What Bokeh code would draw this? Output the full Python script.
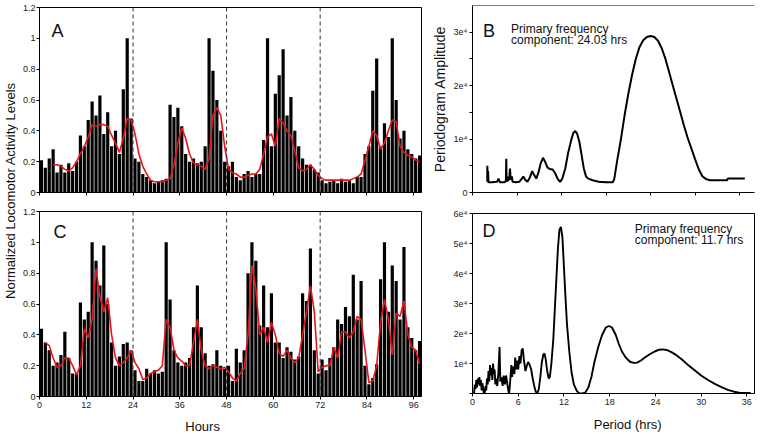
from math import pi
from bokeh.plotting import figure
from bokeh.layouts import row, column
from bokeh.models import (ColumnDataSource, Span, Label, FixedTicker,
                          NumeralTickFormatter, Range1d)
from bokeh.transform import dodge
from bokeh.embed import file_html
from bokeh.resources import INLINE

FONT = "Liberation Sans"

# ---------------- data ----------------
activity_A = [0.21, 0.16, 0.22, 0.28, 0.13, 0.18, 0.13, 0.19, 0.14, 0.2,
              0.37, 0.3, 0.47, 0.59, 0.5, 0.63, 0.38, 0.52, 0.3, 0.4,
              0.25, 0.67, 1.0, 0.48, 0.22, 0.2, 0.12, 0.1, 0.08, 0.06,
              0.07, 0.08, 0.09, 0.57, 0.49, 0.55, 0.43, 0.25, 0.2, 0.22,
              0.19, 0.2, 0.3, 1.0, 0.79, 0.6, 0.4, 0.2, 0.17, 0.2,
              0.1, 0.08, 0.12, 0.14, 0.1, 0.12, 0.12, 0.34, 1.0, 0.3,
              0.64, 0.76, 0.93, 0.5, 0.62, 0.4, 0.3, 0.22, 0.18, 0.18,
              0.15, 0.13, 0.08, 0.06, 0.07, 0.08, 0.06, 0.09, 0.07, 0.08,
              0.06, 0.1, 0.1, 0.25, 0.3, 0.66, 0.87, 0.3, 0.45, 0.36,
              1.0, 0.6, 0.35, 0.4, 0.28, 0.25, 0.22, 0.24]
smooth_A_start = 3
smooth_A = [0.18, 0.18, 0.17, 0.15, 0.14, 0.16, 0.2, 0.25, 0.3, 0.36,
            0.44, 0.43, 0.44, 0.44, 0.43, 0.37, 0.32, 0.26, 0.35, 0.48,
            0.47, 0.38, 0.25, 0.17, 0.12, 0.08, 0.07, 0.07, 0.07, 0.08,
            0.09, 0.18, 0.32, 0.42, 0.35, 0.25, 0.19, 0.18, 0.17, 0.15,
            0.22, 0.5, 0.55, 0.5, 0.3, 0.15, 0.13, 0.12, 0.1, 0.1,
            0.11, 0.12, 0.12, 0.15, 0.25, 0.36, 0.38, 0.3, 0.48, 0.45,
            0.4, 0.37, 0.27, 0.16, 0.14, 0.15, 0.18, 0.15, 0.11, 0.09,
            0.08, 0.08, 0.08, 0.08, 0.08, 0.08, 0.08, 0.09, 0.1, 0.12,
            0.21, 0.3, 0.4, 0.37, 0.28, 0.32, 0.4, 0.47, 0.46, 0.3,
            0.26, 0.24, 0.23, 0.21, 0.2]

activity_C = [0.44, 0.35, 0.3, 0.2, 0.22, 0.27, 0.42, 0.25, 0.15, 0.15,
              0.61, 0.5, 0.55, 1.0, 0.88, 0.72, 0.98, 0.6, 0.35, 0.2,
              0.26, 0.34, 0.35, 0.3, 0.17, 0.1, 0.1, 0.18, 0.15, 0.17,
              0.15, 0.16, 1.0, 0.63, 0.3, 0.22, 0.2, 0.22, 0.25, 0.45,
              0.72, 0.45, 0.28, 0.2, 0.21, 0.3, 0.2, 0.18, 0.2, 0.1,
              0.31, 0.22, 0.3, 0.8, 1.0, 0.88, 0.46, 0.72, 0.45, 0.67,
              0.35, 0.35, 0.25, 0.32, 0.29, 0.24, 0.26, 0.67, 0.62, 0.96,
              0.3, 0.15, 0.24, 0.17, 0.25, 0.32, 0.5, 0.47, 0.58, 0.52,
              0.79, 0.5, 0.75, 0.2, 0.08, 0.12, 0.21, 0.76, 1.0, 0.55,
              0.85, 0.75, 0.5, 0.97, 0.45, 0.38, 0.3, 0.36]
smooth_C_start = 1
smooth_C = [0.35, 0.33, 0.25, 0.19, 0.2, 0.25, 0.25, 0.2, 0.14, 0.2,
            0.44, 0.38, 0.5, 0.83, 0.65, 0.55, 0.64, 0.4, 0.25, 0.2,
            0.22, 0.25, 0.3, 0.22, 0.18, 0.11, 0.12, 0.15, 0.16, 0.17,
            0.2, 0.5, 0.45, 0.3, 0.25, 0.23, 0.2, 0.2, 0.35, 0.5,
            0.3, 0.2, 0.18, 0.2, 0.19, 0.18, 0.19, 0.16, 0.12, 0.1,
            0.15, 0.18, 0.4, 0.85, 0.7, 0.4, 0.45, 0.35, 0.48, 0.4,
            0.28, 0.26, 0.3, 0.25, 0.22, 0.25, 0.4, 0.55, 0.72, 0.55,
            0.16, 0.19, 0.2, 0.2, 0.32, 0.25, 0.42, 0.42, 0.38, 0.42,
            0.52, 0.5, 0.3, 0.09, 0.1, 0.2, 0.48, 0.63, 0.5, 0.27,
            0.54, 0.52, 0.62, 0.4, 0.32, 0.3, 0.21]

hour_ticks = [0, 12, 24, 36, 48, 60, 72, 84, 96]
day_marks = [24, 48, 72]
act_ticks = [0, 0.2, 0.4, 0.6, 0.8, 1.0, 1.2]

period_B = [1.99, 2.0, 2.05, 2.1, 2.15, 2.6, 3.3, 3.5, 3.7, 4.3, 4.5, 4.55, 4.6,
            4.7, 4.75, 4.95, 5.05, 5.15, 5.3, 5.4, 5.8, 6.3, 6.6, 6.85, 7.1,
            7.4, 7.7, 8.05, 8.3, 8.6, 8.9, 9.2, 9.5, 9.8, 10.1, 10.4, 10.8,
            11.1, 11.5, 11.8, 12.1, 12.5, 12.9, 13.3, 13.6, 13.85, 14.1, 14.4,
            14.7, 15.0, 15.3, 15.6, 16.2, 17.0, 18.0, 18.9, 19.1, 19.5, 20.0,
            20.5, 21.0, 21.5, 22.0, 22.5, 23.0, 23.5, 24.0, 24.5, 25.0, 25.5,
            26.0, 26.5, 27.0, 27.5, 28.0, 28.5, 29.0, 29.5, 30.0, 30.5, 31.0,
            31.5, 32.0, 33.0, 34.3, 34.4, 35.5, 36.7]
amp_B = [2000, 5000, 2000, 4000, 1900, 1900, 2000, 2600, 1900, 1900, 2200, 6300, 2000,
         3000, 2200, 2500, 4500, 2400, 3000, 2000, 1900, 2000, 2500, 3000, 2400,
         2000, 2700, 4000, 3300, 2600, 3800, 5500, 6500, 5700, 4700, 4400, 4300,
         3700, 2500, 2000, 2600, 4500, 7500, 9800, 11200, 11500, 11000, 9500,
         7000, 4500, 3000, 2600, 2300, 2000, 1900, 1900, 2500, 6000, 10000,
         14500, 18500, 22000, 25000, 27200, 28500, 29100, 29300, 29100, 28400, 27000,
         25000, 22500, 20000, 17500, 15000, 12500, 10200, 8200, 6200, 4300, 3000,
         2500, 2300, 2300, 2300, 2600, 2600, 2600]

period_D = [0.2, 0.3, 0.4, 0.5, 0.6, 0.7, 0.8, 0.9, 1.0, 1.1, 1.2, 1.3, 1.45, 1.6,
            1.7, 1.8, 1.9, 2.0, 2.1, 2.2, 2.3, 2.4, 2.5, 2.6, 2.7, 2.8, 2.9, 3.0,
            3.1, 3.25, 3.4, 3.55, 3.65, 3.8, 3.95, 4.1, 4.25, 4.4, 4.55, 4.7, 4.8,
            4.9, 5.0, 5.1, 5.2, 5.35, 5.5, 5.6, 5.75, 5.9, 6.0, 6.15, 6.3, 6.45,
            6.6, 6.75, 6.95, 7.15, 7.3, 7.5, 7.7, 7.9, 8.1, 8.3, 8.5, 8.7, 8.9,
            9.1, 9.3, 9.45, 9.6, 9.8, 10.0, 10.15, 10.35, 10.6, 10.8, 11.0, 11.2,
            11.4, 11.6, 11.8, 12.0, 12.2, 12.4, 12.7, 13.0, 13.3, 13.7, 14.0, 14.4,
            14.8, 15.2, 15.6, 16.0, 16.5, 17.0, 17.5, 17.9, 18.3, 18.8, 19.2, 19.6,
            20.1, 20.7, 21.2, 21.6, 22.1, 22.6, 23.2, 23.9, 24.5, 25.0, 25.6, 26.1,
            26.8, 27.4, 28.2, 29.1, 30.0, 30.9, 31.8, 32.6, 33.5, 34.3, 35.0, 35.7,
            36.5]
amp_D = [0, 3000, 1500, 4500, 2000, 5000, 3000, 5500, 2500, 4500, 1000, 3500, 500, 200,
         2500, 1000, 5000, 3000, 7500, 4000, 9500, 6000, 8500, 4500, 10000, 6500, 8000, 3000,
         5000, 2500, 7000, 15500, 4000, 5500, 2500, 6000, 3000, 6000, 3500, 1000, 0,
         2500, 6000, 9500, 5500, 9000, 6500, 12000, 8000, 11000, 8000, 12500, 10000, 14500,
         15000, 11000, 7500, 9500, 10500, 9500, 8000, 5000, 2500, 600, 0, 1500, 5500,
         10500, 13000, 13300, 11500, 7500, 5000, 5500, 10000, 18000, 28000, 38000, 48000,
         54500, 55500, 52000, 42000, 32000, 23000, 14000, 7000, 3000, 800, 100, 0,
         300, 2000, 5500, 10500, 15500, 19500, 22000, 22500, 22000, 19500, 16500, 14000,
         12000, 10500, 10200, 10300, 11000, 12000, 13000, 14000, 14600, 14700, 14400, 13800,
         12700, 11500, 9700, 7800, 6000, 4500, 3200, 2200, 1200, 600, 300, 200,
         200]

period_ticks = [0, 6, 12, 18, 24, 30, 36]
amp_ticks_B = [0, 5000, 10000, 15000, 20000, 25000, 30000]
amp_labels_B = ["0", "", "1e\u2074", "", "2e\u2074", "", "3e\u2074"]
amp_ticks_D = [0, 10000, 20000, 30000, 40000, 50000, 60000]
amp_labels_D = ["", "1e\u2074", "2e\u2074", "3e\u2074", "4e\u2074", "5e\u2074", "6e\u2074"]

RED = "#e8141b"


def style(p):
    p.xgrid.visible = False
    p.ygrid.visible = False
    p.background_fill_color = "white"
    p.border_fill_color = "white"
    p.outline_line_color = "black"
    p.outline_line_width = 1
    for ax in p.axis:
        ax.axis_line_color = "black"
        ax.major_tick_line_color = "black"
        ax.minor_tick_line_color = None
        ax.major_tick_in = 0
        ax.major_tick_out = 3
        ax.major_label_text_font = FONT
        ax.major_label_text_font_size = "9px"
        ax.major_label_text_color = "#222222"
        ax.major_label_standoff = 2


def hide_labels(ax):
    ax.major_label_text_font_size = "1px"
    ax.major_label_text_alpha = 0
    ax.major_label_standoff = 0


def label(p, x, y, text, size, **kw):
    kw.setdefault("text_baseline", "alphabetic")
    p.add_layout(Label(x=x, y=y, text=text, text_font=FONT,
                       text_font_size=size, text_color="#111111", **kw))


def blank(width, height, xr, left, right):
    p = figure(width=width, height=height, x_range=xr, y_range=Range1d(0, 1),
               output_backend="svg", toolbar_location=None,
               min_border_left=left, min_border_right=right,
               min_border_top=0, min_border_bottom=0)
    p.axis.visible = False
    p.grid.visible = False
    p.outline_line_color = None
    p.background_fill_color = "white"
    p.border_fill_color = "white"
    return p


LEFT_W = 19


def activity_panel(vals, smooth, start, height, top, bottom, letter, lx, ly):
    p = figure(width=428 - LEFT_W, height=height, x_range=Range1d(0, 98),
               y_range=Range1d(0, 1.2), output_backend="svg",
               toolbar_location=None, min_border_left=38 - LEFT_W,
               min_border_right=7, min_border_top=top,
               min_border_bottom=bottom)
    style(p)
    p.yaxis.major_label_standoff = 1
    src = ColumnDataSource(dict(hour=list(range(len(vals))), act=vals))
    p.vbar(x=dodge("hour", 0.5, range=p.x_range), top="act", width=0.82,
           source=src, fill_color="black", line_color=None)
    ssrc = ColumnDataSource(dict(hour=list(range(start, start + len(smooth))),
                                 sm=smooth))
    p.line(x=dodge("hour", 0.5, range=p.x_range), y="sm", source=ssrc,
           line_color=RED, line_width=1.6)
    for d in day_marks:
        p.add_layout(Span(location=d, dimension="height", line_color="#333333",
                          line_dash="4 3", line_width=1))
    p.xaxis.ticker = FixedTicker(ticks=hour_ticks)
    p.yaxis.ticker = FixedTicker(ticks=act_ticks)
    p.yaxis.formatter = NumeralTickFormatter(format="0.[0]")
    label(p, lx, ly, letter, "18px")
    return p


# A (top-left) and C (bottom-left)
pA = activity_panel(activity_A, smooth_A, smooth_A_start, 200, 7, 8, "A", 3.07, 1.05)
hide_labels(pA.xaxis[0])
pC = activity_panel(activity_C, smooth_C, smooth_C_start, 212, 11, 16, "C", 3.6, 1.07)

pH = blank(428 - LEFT_W, 22, Range1d(0, 98), 38 - LEFT_W, 7)
label(pH, 41.84, 0.364, "Hours", "13px", text_align="center")

# shared y label for A and C
pL = blank(LEFT_W, 434, Range1d(0, 1), 0, 0)
label(pL, 0.5, 0.562, "Normalized Locomotor Activity Levels", "13px",
      angle=pi / 2, text_align="center", text_baseline="middle")

# B (top-right)
pB = figure(width=333, height=200, x_range=Range1d(0, 38),
            y_range=Range1d(0, 35000), output_backend="svg",
            toolbar_location=None, min_border_left=41, min_border_right=0,
            min_border_top=5, min_border_bottom=8)
style(pB)
pB.outline_line_color = None
pB.add_layout(Span(location=35000, dimension="width", line_color="black",
                   line_width=1))
pB.line(period_B, amp_B, line_color="black", line_width=2)
pB.xaxis.ticker = FixedTicker(ticks=period_ticks)
hide_labels(pB.xaxis[0])
pB.yaxis.ticker = FixedTicker(ticks=amp_ticks_B)
pB.yaxis.major_label_overrides = dict(zip(amp_ticks_B, amp_labels_B))
pB.yaxis.axis_label = "Periodogram Amplitude"
pB.yaxis.axis_label_text_font = FONT
pB.yaxis.axis_label_text_font_size = "14px"
pB.yaxis.axis_label_text_font_style = "normal"
pB.yaxis.axis_label_text_color = "#111111"
pB.yaxis.axis_label_standoff = 3
label(pB, 1.43, 30190, "B", "18px")
label(pB, 5.2, 30670, "Primary frequency", "12px")
label(pB, 5.2, 28510, "component: 24.03 hrs", "12px")

# D (bottom-right)
pD = figure(width=333, height=212, x_range=Range1d(0, 37),
            y_range=Range1d(0, 60000), output_backend="svg",
            toolbar_location=None, min_border_left=41, min_border_right=7,
            min_border_top=13, min_border_bottom=19)
style(pD)
pD.line(period_D, amp_D, line_color="black", line_width=1.9)
pD.xaxis.ticker = FixedTicker(ticks=period_ticks)
pD.yaxis.ticker = FixedTicker(ticks=amp_ticks_D)
pD.yaxis.major_label_overrides = dict(zip(amp_ticks_D, amp_labels_D))
label(pD, 1.3, 54300, "D", "18px")
label(pD, 21.3, 54900, "Primary frequency", "12px")
label(pD, 21.3, 51250, "component: 11.7 hrs", "12px")

pP = blank(333, 22, Range1d(0, 37), 41, 7)
label(pP, 20.36, 0.44, "Period (hrs)", "13px", text_align="center")

layout = row(pL, column(pA, pC, pH), column(pB, pD, pP))
open("out.html", "w").write(file_html(layout, INLINE))
